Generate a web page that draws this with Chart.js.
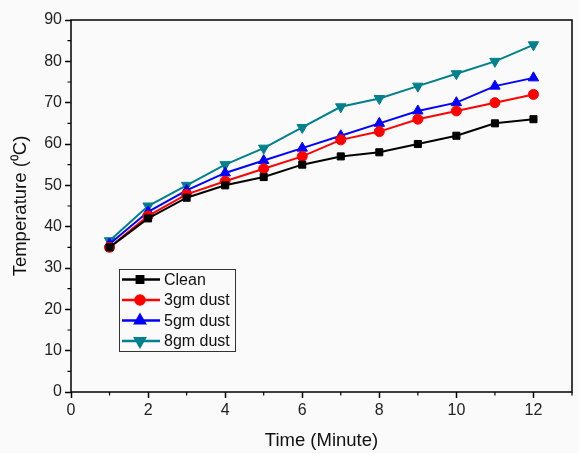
<!DOCTYPE html>
<html>
<head>
<meta charset="utf-8">
<script src="https://cdn.jsdelivr.net/npm/chart.js@4"></script>
<style>
  html, body { margin: 0; padding: 0; background: #fafafa; }
  #wrap { width: 579px; height: 453px; }
</style>
</head>
<body>
<div id="wrap"><canvas id="myChart"></canvas></div>
<script>
// time in minutes
var times = [1, 2, 3, 4, 5, 6, 7, 8, 9, 10, 11, 12];
// panel temperature (deg C)
var clean = [35, 42, 47, 50, 52, 55, 57, 58, 60, 62, 65, 66];
var dust3 = [35, 42.6, 47.8, 51, 54, 57, 61, 63, 66, 68, 70, 72];
var dust5 = [35.8, 43.6, 48.8, 53, 56, 59, 62, 65, 68, 70, 74, 76];
var dust8 = [36.6, 45, 50, 55, 59, 64, 69, 71, 74, 77, 80, 84];
var seriesNames = ["Clean", "3gm dust", "5gm dust", "8gm dust"];
var xTicks = [0, 2, 4, 6, 8, 10, 12];
var yTicks = [0, 10, 20, 30, 40, 50, 60, 70, 80, 90];

var FONT = "'Liberation Sans', Arial, sans-serif";

function pts(arr) {
  return times.map(function (t, i) { return { x: t, y: arr[i] }; });
}

function makeSet(label, values, color, style, size, rot) {
  return {
    label: label,
    data: pts(values),
    borderColor: color,
    backgroundColor: color,
    borderWidth: 2,
    pointStyle: style,
    pointRadius: size,
    pointRotation: rot || 0,
    pointBorderWidth: 1,
    tension: 0
  };
}

// frame, minor ticks and inset legend
var decor = {
  id: 'decor',
  afterDraw: function (chart) {
    var c = chart.ctx, a = chart.chartArea;
    var xs = chart.scales.x, ys = chart.scales.y;
    c.save();
    c.strokeStyle = '#000';
    c.lineWidth = 1.5;
    c.strokeRect(a.left, a.top, a.right - a.left, a.bottom - a.top);
    c.lineWidth = 1.2;
    c.beginPath();
    for (var v = 5; v < 90; v += 10) {
      var py = ys.getPixelForValue(v);
      c.moveTo(a.left - 3.5, py); c.lineTo(a.left, py);
    }
    for (var u = 1; u <= 13; u += 2) {
      var px = xs.getPixelForValue(u);
      c.moveTo(px, a.bottom); c.lineTo(px, a.bottom + 3.5);
    }
    c.stroke();

    // legend box
    var lx = a.left + 48, ly = a.top + 249, lw = 116, lh = 82;
    c.lineWidth = 1;
    c.strokeStyle = '#333';
    c.strokeRect(lx + 0.5, ly + 0.5, lw, lh);
    c.font = '16px ' + FONT;
    c.textBaseline = 'middle';
    chart.data.datasets.forEach(function (ds, i) {
      var y = ly + 10.5 + i * 20.5;
      c.strokeStyle = ds.borderColor;
      c.lineWidth = 2.5;
      c.beginPath();
      c.moveTo(lx + 3, y); c.lineTo(lx + 41, y);
      c.stroke();
      Chart.helpers.drawPoint(c, {
        pointStyle: ds.pointStyle, rotation: ds.pointRotation,
        radius: ds.pointRadius - 0.5, borderWidth: 1
      }, lx + 21, y);
      c.fillStyle = ds.borderColor;
      c.fill();
      c.fillStyle = '#111';
      c.fillText(ds.label, lx + 45, y + 1);
    });
    c.restore();
  }
};

var ctx = document.getElementById('myChart').getContext('2d');
var chart = new Chart(ctx, {
  type: 'line',
  data: {
    datasets: [
      makeSet(seriesNames[0], clean, '#000000', 'rect', 5),
      makeSet(seriesNames[1], dust3, '#ff0000', 'circle', 5),
      makeSet(seriesNames[2], dust5, '#0000ff', 'triangle', 6),
      makeSet(seriesNames[3], dust8, '#00808c', 'triangle', 6, 180)
    ]
  },
  options: {
    responsive: true,
    maintainAspectRatio: false,
    animation: false,
    layout: { padding: { top: 20, right: 1, left: 0, bottom: 0 } },
    plugins: {
      legend: { display: false },
      tooltip: { enabled: false }
    },
    scales: {
      x: {
        type: 'linear',
        min: 0, max: 13,
        afterFit: function (s) { s.height = 61; },
        afterBuildTicks: function (s) { s.ticks = xTicks.map(function (v) { return { value: v }; }); },
        ticks: { font: { family: FONT, size: 16 }, color: '#222', padding: 3, maxRotation: 0 },
        grid: { drawOnChartArea: false, color: '#000', tickLength: 6, tickWidth: 1.5 },
        border: { display: false },
        title: { display: true, text: 'Time (Minute)', font: { family: FONT, size: 18.5 }, color: '#111', padding: { top: 1, bottom: 1 } }
      },
      y: {
        min: 0, max: 90,
        afterFit: function (s) { s.width = 71; },
        afterBuildTicks: function (s) { s.ticks = yTicks.map(function (v) { return { value: v }; }); },
        ticks: { font: { family: FONT, size: 16 }, color: '#222', padding: 3 },
        grid: { drawOnChartArea: false, color: '#000', tickLength: 6, tickWidth: 1.5 },
        border: { display: false },
        title: { display: true, text: 'Temperature (\u2070C)', font: { family: FONT, size: 18.5 }, color: '#111', padding: { top: 10, bottom: 0 } }
      }
    }
  },
  plugins: [decor]
});
</script>
</body>
</html>
